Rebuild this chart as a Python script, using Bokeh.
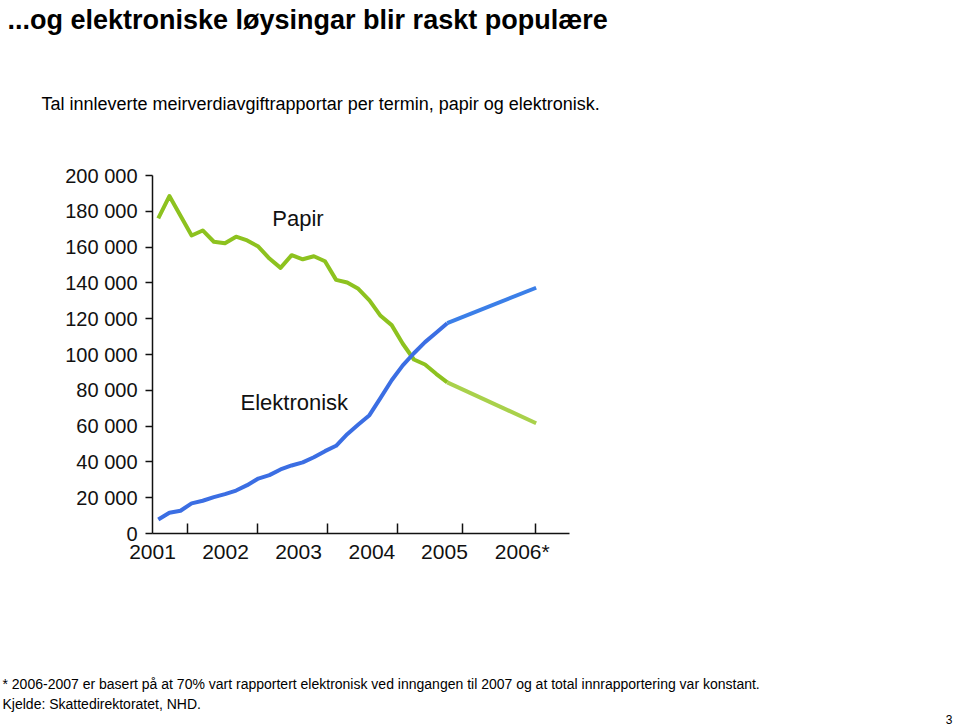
from bokeh.plotting import figure
from bokeh.models import Range1d, FixedTicker, Title
from bokeh.core.properties import value
from bokeh.embed import file_html
from bokeh.resources import INLINE

# ---- data (number of VAT reports per term) ----
term_index = list(range(27))          # observed terms, 2001 T1 onward
papir = [176000, 188500, 177500, 166500, 169300, 163000, 162200, 165800, 163700,
         160300, 153600, 148400, 155500, 153200, 154900, 152100, 141700, 140200,
         136700, 130200, 121600, 116400, 106000, 97200, 94400, 89200, 84400]
elektronisk = [7800, 11600, 12700, 16800, 18300, 20300, 22000, 24000, 27000,
               30700, 32600, 35800, 38000, 39700, 42600, 46000, 49000, 55500,
               60900, 66100, 75800, 85600, 93900, 100700, 106900, 112100, 117500]
proj_index = [26, 34]                 # projection to start of 2007
papir_proj = [84400, 61600]
elektronisk_proj = [117500, 137300]

year_labels = ["2001", "2002", "2003", "2004", "2005", "2006*"]
year_label_pos = [-0.515, 6.05, 12.62, 19.22, 25.75, 32.75]
year_tick_pos = [2.64, 8.94, 15.24, 21.50, 27.35, 33.94]
y_ticks = [0, 20000, 40000, 60000, 80000, 100000, 120000, 140000, 160000, 180000, 200000]
y_tick_labels = ["0", "20 000", "40 000", "60 000", "80 000", "100 000", "120 000",
                 "140 000", "160 000", "180 000", "200 000"]

title_text = "...og elektroniske løysingar blir raskt populære"
subtitle_text = "Tal innleverte meirverdiavgiftrapportar per termin, papir og elektronisk."
footnote_text = ("* 2006-2007 er basert på at 70% vart rapportert elektronisk ved inngangen "
                 "til 2007 og at total innrapportering var konstant.")
source_text = "Kjelde: Skattedirektoratet, NHD."
page_text = "3"

FONT = "Liberation Sans"
INK = "#111111"

p = figure(width=960, height=728, output_backend="svg", toolbar_location=None,
           x_range=Range1d(-0.52, 37.0), y_range=Range1d(0, 200000),
           min_border_left=152, min_border_right=391, min_border_top=175,
           min_border_bottom=195)
p.outline_line_color = None
p.xgrid.visible = False
p.ygrid.visible = False
p.background_fill_color = "white"
p.border_fill_color = "white"

p.line(term_index, papir, line_color="#8dc21f", line_width=4, line_join="round")
p.line(term_index, elektronisk, line_color="#3b6ee3", line_width=4, line_join="round")
p.line(proj_index, papir_proj, line_color="#a9d14b", line_width=4)
p.line(proj_index, elektronisk_proj, line_color="#3b7fe8", line_width=4)

p.text(x=[10.26], y=[176200], text=["Papir"], text_font=value(FONT),
       text_font_size="22px", text_color=INK, text_baseline="alphabetic")
p.text(x=[7.4], y=[73200], text=["Elektronisk"], text_font=value(FONT),
       text_font_size="22px", text_color=INK, text_baseline="alphabetic")

ya = p.yaxis[0]
ya.ticker = FixedTicker(ticks=y_ticks)
ya.major_label_overrides = {v: s for v, s in zip(y_ticks, y_tick_labels)}
ya.major_tick_out = 7
ya.major_tick_in = 0
ya.minor_tick_line_color = None
ya.axis_line_color = INK
ya.axis_line_width = 1.5
ya.major_tick_line_color = INK
ya.major_tick_line_width = 1.5
ya.major_label_standoff = 8
ya.major_label_text_font = FONT
ya.major_label_text_font_size = "20px"
ya.major_label_text_color = INK

xa = p.xaxis[0]
xa.ticker = FixedTicker(ticks=year_label_pos, minor_ticks=year_tick_pos)
xa.major_label_overrides = {v: s for v, s in zip(year_label_pos, year_labels)}
xa.major_tick_line_color = None
xa.major_tick_in = 0
xa.major_tick_out = 0
xa.minor_tick_in = 10
xa.minor_tick_out = 0
xa.minor_tick_line_color = INK
xa.minor_tick_line_width = 1.5
xa.axis_line_color = INK
xa.axis_line_width = 1.5
xa.major_label_standoff = 6
xa.major_label_text_font = FONT
xa.major_label_text_font_size = "21px"
xa.major_label_text_color = INK


def spacer(gap):
    return Title(text=" ", standoff=gap, text_font=FONT, text_font_size="1px")


# ---- texts in side panels (listed from the frame outward) ----
sub = Title(text=subtitle_text, align="left", offset=-111, standoff=0,
            text_font=FONT, text_font_size="18px", text_font_style="normal",
            text_color="#000000")
ttl = Title(text=title_text, align="left", offset=-145, standoff=0,
            text_font=FONT, text_font_size="27px", text_font_style="bold",
            text_color="#000000")
p.add_layout(spacer(59), "above")
p.add_layout(sub, "above")
p.add_layout(spacer(54), "above")
p.add_layout(ttl, "above")

foot = Title(text=footnote_text + "\n" + source_text, align="left", offset=-150,
             standoff=0, text_font=FONT, text_font_size="14px",
             text_font_style="normal", text_color="#000000", text_line_height=1.29)
page = Title(text=page_text, align="right", offset=-383, standoff=0,
             text_font=FONT, text_font_size="12px", text_font_style="normal",
             text_color="#000000")
p.add_layout(spacer(105), "below")
p.add_layout(foot, "below")
p.add_layout(page, "below")

open("out.html", "w").write(file_html(p, INLINE))
